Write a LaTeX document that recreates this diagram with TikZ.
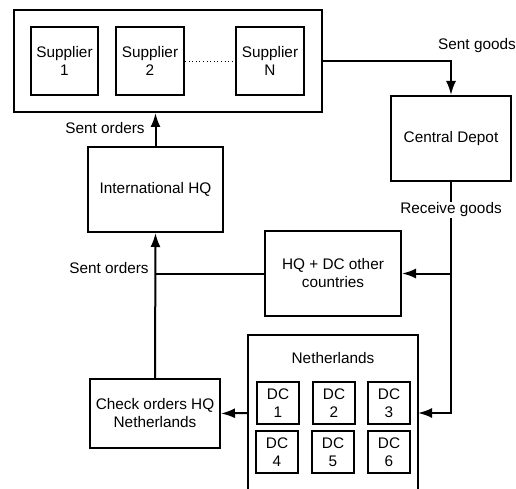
\documentclass[tikz,border=0pt]{standalone}
\usepackage{fontspec}
\setmainfont{Liberation Sans}
\usepackage{tikz}
\usetikzlibrary{arrows.meta}
\newcommand{\px}{0.75pt}

\tikzset{
  box/.style={draw, line width=1.5pt, align=center, inner sep=0pt},
  dcbox/.style={box, minimum width=42*\px, minimum height=42*\px},
  flow/.style={line width=1.5pt, -{Latex[length=10.5pt,width=7.5pt]}},
  link/.style={line width=1.5pt},
  lbl/.style={inner sep=1pt}
}

\begin{document}
\begin{tikzpicture}[x=\px, y=-\px, font=\fontsize{11.5pt}{13.5pt}\selectfont]
\useasboundingbox (0,0) rectangle (516,488);

% suppliers
\node[box, minimum width=308*\px, minimum height=102*\px] (supp) at (168,61) {};
\node[box, minimum width=67*\px, minimum height=68*\px] (s1) at (64.5,61) {Supplier\\1};
\node[box, minimum width=68*\px, minimum height=68*\px] (s2) at (150,61) {Supplier\\2};
\node[box, minimum width=68*\px, minimum height=68*\px] (sN) at (270,61) {Supplier\\N};
\draw[line width=0.7pt, dotted] (s2.east) -- (sN.west);

% main boxes
\node[box, minimum width=120*\px, minimum height=85*\px] (depot) at (451,138.5) {Central Depot};
\node[box, minimum width=135*\px, minimum height=85*\px] (ihq) at (155.5,189.5) {International HQ};
\node[box, minimum width=136*\px, minimum height=85*\px] (hqdc) at (333,273.5) {HQ + DC other\\countries};
\node[box, minimum width=130*\px, minimum height=69*\px] (check) at (155,413.5) {Check orders HQ\\Netherlands};

% Netherlands (open at the bottom)
\draw[link] (248,490) -- (248,335) -- (418,335) -- (418,490);
\node (neth) at (333,358) {Netherlands};
\coordinate (nethL) at (248,413);
\coordinate (nethR) at (418,413);
\node[dcbox] (dc1) at (278,403) {DC\\1};
\node[dcbox] (dc2) at (334,403) {DC\\2};
\node[dcbox] (dc3) at (389,403) {DC\\3};
\node[dcbox] (dc4) at (277,452) {DC\\4};
\node[dcbox] (dc5) at (333,452) {DC\\5};
\node[dcbox] (dc6) at (389,452) {DC\\6};

% flows
\draw[flow] (supp.east) -| (depot.north);
\node[lbl] (sentgoods) at (477,46) {Sent goods};
\coordinate (split) at (depot.south |- hqdc.east);
\draw[flow] (depot.south) |- (nethR);
\draw[flow] (split) -- (hqdc.east);
\node[lbl, fill=white] (receive) at (451,210) {Receive goods};
\draw[flow] (ihq.north) -- (ihq.north |- supp.south);
\node[lbl] (sent1) at (105,128) {Sent orders};
\draw[flow] (check.north) -- (ihq.south);
\draw[link] (hqdc.west) -- (check.north |- hqdc.west);
\node[lbl] (sent2) at (109,268) {Sent orders};
\draw[flow] (nethL) -- (check.east);
\end{tikzpicture}
\end{document}
